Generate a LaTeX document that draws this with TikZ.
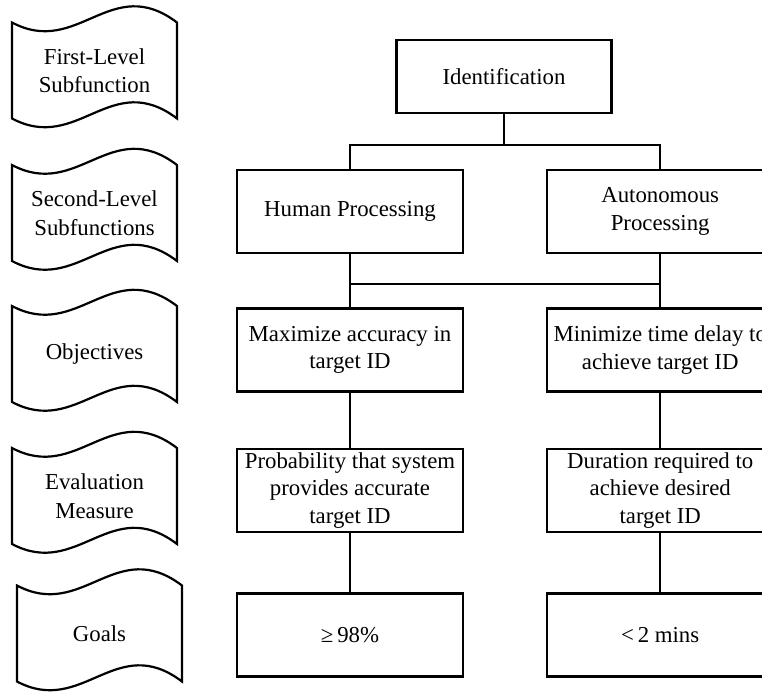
\documentclass[tikz,border=0pt]{standalone}
\usepackage{fontspec}
\setmainfont{Liberation Serif}
\usetikzlibrary{positioning}
\tikzset{
  lvlbox/.style ={rectangle, draw=black, line width=2.2pt, fill=white, align=center, inner sep=2pt,
                  minimum width=226pt, minimum height=83pt, font=\fontsize{22.8}{27.3}\selectfont},
  lnk/.style    ={line width=2.2pt, color=black},
  flagline/.style={line width=2.2pt, color=black},
  flagtxt/.style={align=center, inner sep=0pt, font=\fontsize{22.8}{28.5}\selectfont},
  lvlflag/.pic={
    \draw[flagline] (-82.5,-48) .. controls (-16.5,-13) and (16.5,-98) .. (82.5,-48)
      -- (82.5,48) .. controls (16.5,-2) and (-16.5,83) .. (-82.5,48) -- cycle;
    \node[flagtxt] (-txt) {#1};
  },
}

\begin{document}
\begin{tikzpicture}[x=1pt, y=-1pt, node distance=82pt]
  \useasboundingbox (0,0) rectangle (762,696);
  % level flags on the left
  \pic (lv1) at (94.5,70.5)  {lvlflag={First-Level\\Subfunction}};
  \pic (lv2) at (94.5,213)   {lvlflag={Second-Level\\Subfunctions}};
  \pic (lv3) at (94.5,354)   {lvlflag={Objectives}};
  \pic (lv4) at (94.5,496)   {lvlflag={Evaluation\\Measure}};
  \pic (lv5) at (99.5,633.5) {lvlflag={Goals}};
  % tree
  \node[lvlbox, minimum width=215pt, minimum height=73pt] (ident) at (504,76.5) {Identification};
  \node[lvlbox] (human) at (350,211.5) {Human Processing};
  \node[lvlbox, right=of human] (auto) {Autonomous\\Processing};
  \node[lvlbox] (maxacc) at (350,350) {Maximize accuracy in\\target ID};
  \node[lvlbox, right=of maxacc] (mintime) {Minimize time delay to\\achieve target ID};
  \node[lvlbox] (prob) at (350,490.5) {Probability that system\\provides accurate\\target ID};
  \node[lvlbox, right=of prob] (dur) {Duration required to\\achieve desired\\target ID};
  \node[lvlbox] (goal1) at (350,635) {≥\,98\%};
  \node[lvlbox, right=of goal1] (goal2) {<\,2 mins};
  \coordinate (bus1) at (504,145);
  \coordinate (bus2) at (504,284);
  \draw[lnk] (ident.south) -- (bus1);
  \draw[lnk] (human.north) |- (bus1) -| (auto.north);
  \draw[lnk] (human.south) -- (maxacc.north);
  \draw[lnk] (auto.south) -- (mintime.north);
  \draw[lnk] (human.south |- bus2) -- (auto.south |- bus2);
  \draw[lnk] (maxacc.south) -- (prob.north);
  \draw[lnk] (prob.south) -- (goal1.north);
  \draw[lnk] (mintime.south) -- (dur.north);
  \draw[lnk] (dur.south) -- (goal2.north);
\end{tikzpicture}
\end{document}
